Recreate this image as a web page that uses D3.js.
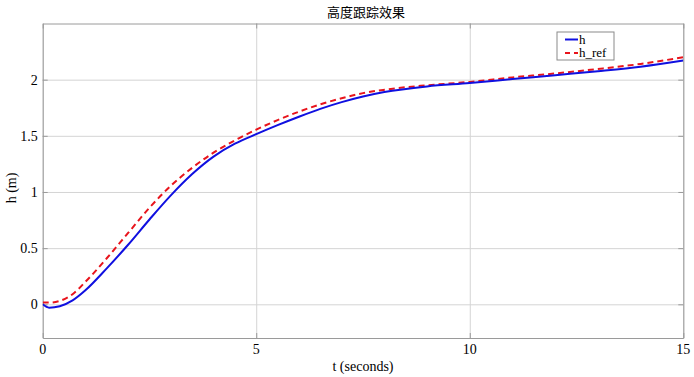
<!DOCTYPE html>
<html>
<head>
<meta charset="utf-8">
<script src="https://cdn.jsdelivr.net/npm/d3@7"></script>
<style>
  body { margin: 0; background: #fff; }
  svg { display: block; }
  text { font-family: "Liberation Serif", "Times New Roman", "Noto Sans CJK SC", serif; fill: #000; }
</style>
</head>
<body>
<div id="chart"></div>
<script>
// DATA
const tValues = [0, 0.15, 0.4, 0.7, 1, 1.5, 2, 2.5, 3, 3.5, 4, 4.5, 5, 5.5, 6, 6.5, 7, 7.5, 8, 9, 10, 11, 12, 13, 14, 15]
const hValues = [0, -0.03, -0.017, 0.035, 0.125, 0.32, 0.53, 0.755, 0.97, 1.16, 1.315, 1.43, 1.515, 1.595, 1.67, 1.74, 1.80, 1.85, 1.89, 1.94, 1.97, 2.005, 2.04, 2.075, 2.115, 2.17]
const hRefValues = [0.015, 0.015, 0.03, 0.09, 0.2, 0.41, 0.635, 0.86, 1.055, 1.215, 1.35, 1.46, 1.555, 1.64, 1.715, 1.78, 1.835, 1.88, 1.91, 1.95, 1.98, 2.02, 2.055, 2.095, 2.14, 2.2]
const xTicks = [0, 5, 10, 15]
const yTicks = [0, 0.5, 1, 1.5, 2]
const seriesNames = ["h", "h_ref"]

const W = 694, H = 377
const pLeft = 42.7, pRight = 683.3, pTop = 23.5, pBottom = 338

// SCALE
const xScale = d3.scaleLinear().domain([0, 15]).range([pLeft, pRight])
const yScale = d3.scaleLinear().domain([-0.3, 2.5]).range([pBottom, pTop])

const svg = d3.select("#chart").append("svg")
    .attr("width", W)
    .attr("height", H)

svg.append("rect").attr("width", W).attr("height", H).attr("fill", "#fff")

// GRID
svg.append("g")
    .attr("transform", `translate(0, ${pBottom})`)
    .call(d3.axisBottom(xScale).tickValues(xTicks).tickSize(-(pBottom - pTop)).tickFormat(""))
    .call(g => g.select(".domain").remove())
    .call(g => g.selectAll("line").attr("stroke", "#d4d4d4"))

svg.append("g")
    .attr("transform", `translate(${pLeft}, 0)`)
    .call(d3.axisLeft(yScale).tickValues(yTicks).tickSize(-(pRight - pLeft)).tickFormat(""))
    .call(g => g.select(".domain").remove())
    .call(g => g.selectAll("line").attr("stroke", "#d4d4d4"))

// FRAME + inward ticks
const tickCol = "#9a9a9a"
const sides = [
  [d3.axisBottom(xScale).tickValues(xTicks), `translate(0, ${pBottom})`],
  [d3.axisTop(xScale).tickValues(xTicks), `translate(0, ${pTop})`],
  [d3.axisLeft(yScale).tickValues(yTicks), `translate(${pLeft}, 0)`],
  [d3.axisRight(yScale).tickValues(yTicks), `translate(${pRight}, 0)`]
]
sides.forEach(([ax, tr]) => {
  svg.append("g")
      .attr("transform", tr)
      .call(ax.tickSize(-5).tickSizeOuter(0).tickFormat(""))
      .call(g => g.selectAll("line, path").attr("stroke", tickCol))
})

// TICK LABELS
svg.append("g").selectAll("text")
    .data(xTicks)
    .join("text")
    .attr("x", d => xScale(d))
    .attr("y", pBottom + 16)
    .attr("text-anchor", "middle")
    .attr("font-size", 14)
    .text(d => d)

svg.append("g").selectAll("text")
    .data(yTicks)
    .join("text")
    .attr("x", pLeft - 5)
    .attr("y", d => yScale(d))
    .attr("dy", "0.35em")
    .attr("text-anchor", "end")
    .attr("font-size", 14)
    .text(d => d)

// AXIS TITLES
svg.append("text")
    .attr("x", (pLeft + pRight) / 2)
    .attr("y", 371)
    .attr("text-anchor", "middle")
    .attr("font-size", 14)
    .text("t (seconds)")

svg.append("text")
    .attr("transform", `translate(16, 188) rotate(-90)`)
    .attr("text-anchor", "middle")
    .attr("font-size", 14)
    .text("h (m)")

svg.append("text")
    .attr("x", 366)
    .attr("y", 17)
    .attr("text-anchor", "middle")
    .attr("font-size", 13)
    .style("font-family", "'Noto Sans CJK SC', sans-serif")
    .text("高度跟踪效果")

// LINES
const line = d3.line()
    .x(d => xScale(d[0]))
    .y(d => yScale(d[1]))
    .curve(d3.curveMonotoneX)

svg.append("clipPath").attr("id", "clip")
    .append("rect").attr("x", pLeft).attr("y", pTop).attr("width", pRight - pLeft).attr("height", pBottom - pTop)

const plot = svg.append("g").attr("clip-path", "url(#clip)")

plot.append("path")
    .datum(d3.zip(tValues, hRefValues))
    .attr("d", line)
    .attr("fill", "none")
    .attr("stroke", "#e8141c")
    .attr("stroke-width", 2)
    .attr("stroke-dasharray", "6,4")

plot.append("path")
    .datum(d3.zip(tValues, hValues))
    .attr("d", line)
    .attr("fill", "none")
    .attr("stroke", "#1010e0")
    .attr("stroke-width", 2)

// LEGEND
const legend = svg.append("g").attr("transform", "translate(557, 32)")
legend.append("rect")
    .attr("width", 57)
    .attr("height", 28)
    .attr("fill", "#fff")
    .attr("stroke", "#8a8a8a")

const legendStyles = [
  { color: "#1010e0", dash: null },
  { color: "#e8141c", dash: "5,4" }
]
seriesNames.forEach((name, i) => {
  const y = 7.5 + i * 13.5
  legend.append("line")
      .attr("x1", 8).attr("x2", 21)
      .attr("y1", y).attr("y2", y)
      .attr("stroke", legendStyles[i].color)
      .attr("stroke-width", 2)
      .attr("stroke-dasharray", legendStyles[i].dash)
  legend.append("text")
      .attr("x", 22)
      .attr("y", y)
      .attr("dy", "0.33em")
      .attr("font-size", 13)
      .text(name)
})
</script>
</body>
</html>
